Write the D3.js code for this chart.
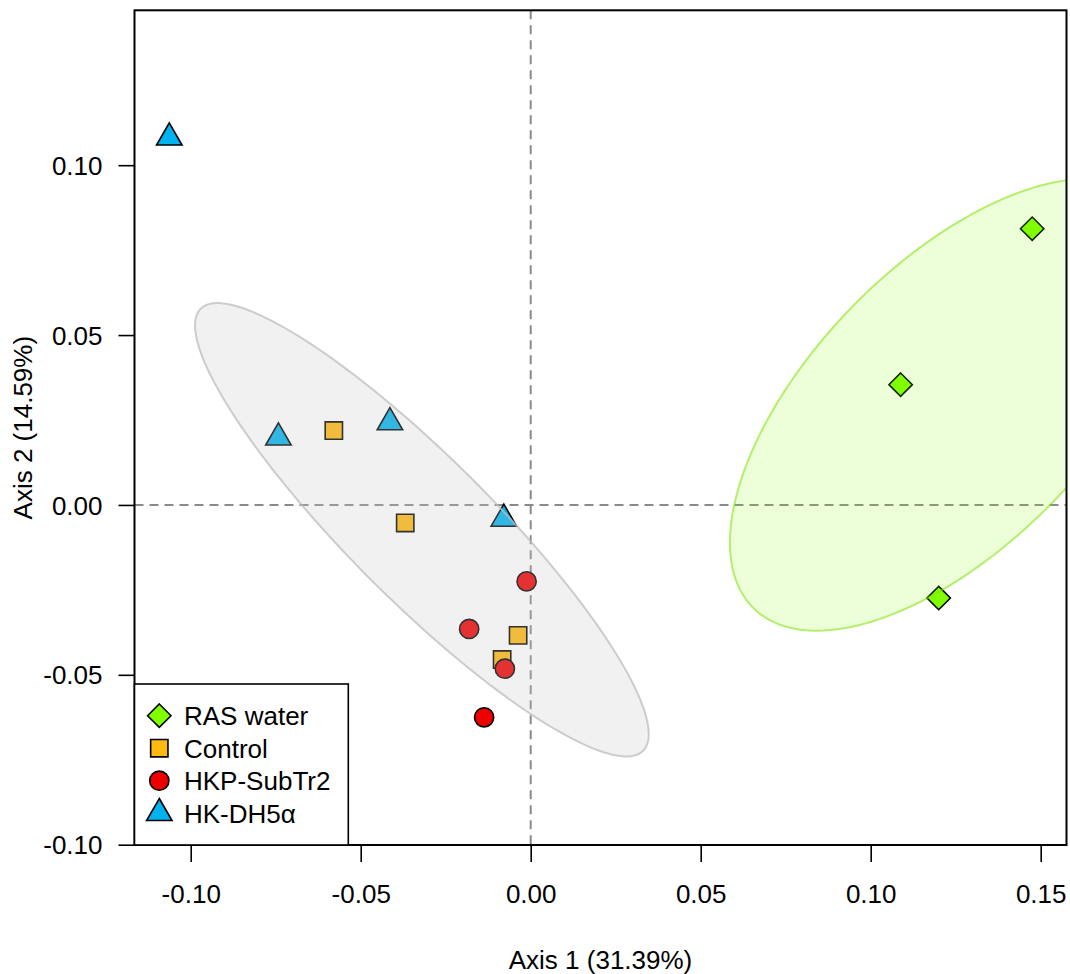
<!DOCTYPE html>
<html><head><meta charset="utf-8">
<script src="https://cdn.jsdelivr.net/npm/d3@7"></script>
<style>
html,body{margin:0;padding:0;background:#fff;}
text{font-family:"Liberation Sans",Arial,Helvetica,sans-serif;}
</style></head>
<body><svg id="c" width="1070" height="974"></svg>
<script>
// ---------------- data ----------------
const groups = ["RAS water", "Control", "HKP-SubTr2", "HK-DH5α"];
const groupColors = ["#7FFF00", "#FFB90F", "#EE0000", "#00B2EE"];
const groupShapes = ["diamond", "square", "circle", "triangle"];

const rasX = [0.1475, 0.1088, 0.1200];
const rasY = [0.0813, 0.0354, -0.0274];
const controlX = [-0.0579, -0.0369, -0.0037, -0.0084];
const controlY = [0.0219, -0.0053, -0.0384, -0.0455];
const hkpX = [-0.0012, -0.0181, -0.0076, -0.0137];
const hkpY = [-0.0225, -0.0365, -0.0482, -0.0625];
const dh5X = [-0.1063, -0.0742, -0.0414, -0.0079];
const dh5Y = [0.1081, 0.0198, 0.0243, -0.0041];

// ellipses: [centerX, centerY, semiMajor, semiMinor, angleDeg]
const ellipseGrey = [-0.0320, -0.0073, 0.0920, 0.0210, -45];
const ellipseGreen = [0.1240, 0.0295, 0.0837, 0.0412, 45.8];

const xTicks = [-0.10, -0.05, 0.00, 0.05, 0.10, 0.15];
const yTicks = [-0.10, -0.05, 0.00, 0.05, 0.10];
const xTitle = "Axis 1 (31.39%)";
const yTitle = "Axis 2 (14.59%)";

// ---------------- layout ----------------
const L = 134.5, R = 1066.5, T = 10.3, B = 845;
const x = d3.scaleLinear().domain([-0.11653, 0.15759]).range([L, R]);
const y = d3.scaleLinear().domain([-0.10009, 0.14559]).range([B, T]);

const svg = d3.select("#c");
svg.append("defs").append("clipPath").attr("id", "plotclip")
  .append("rect").attr("x", L).attr("y", T).attr("width", R - L).attr("height", B - T);

const fontSize = 26;

// dashed zero lines
const plot = svg.append("g").attr("clip-path", "url(#plotclip)");
plot.append("line").attr("x1", L).attr("x2", R).attr("y1", y(0)).attr("y2", y(0))
  .attr("stroke", "#8a8a8a").attr("stroke-width", 2).attr("stroke-dasharray", "9,6");
plot.append("line").attr("x1", x(0)).attr("x2", x(0)).attr("y1", T).attr("y2", B)
  .attr("stroke", "#8a8a8a").attr("stroke-width", 2).attr("stroke-dasharray", "9,6");

// symbol paths (pixel sizes)
function symPath(shape) {
  if (shape === "diamond") { const s = 11.7; return `M0,${-s}L${s},0L0,${s}L${-s},0Z`; }
  if (shape === "square") { const s = 8.65; return `M${-s},${-s}H${s}V${s}H${-s}Z`; }
  if (shape === "circle") { const r = 9.6; return `M${r},0A${r},${r} 0 1,1 ${-r},0A${r},${r} 0 1,1 ${r},0Z`; }
  const r = 14.7; return `M0,${-r}L${0.866 * r},${r / 2}L${-0.866 * r},${r / 2}Z`;
}

const seriesX = [rasX, controlX, hkpX, dh5X];
const seriesY = [rasY, controlY, hkpY, dh5Y];
const draw = [3, 1, 2, 0]; // draw order
draw.forEach(gi => {
  seriesX[gi].forEach((vx, i) => {
    plot.append("path").attr("d", symPath(groupShapes[gi]))
      .attr("transform", `translate(${x(vx)},${y(seriesY[gi][i])})`)
      .attr("fill", groupColors[gi]).attr("stroke", "#000").attr("stroke-width", 1.6)
      .attr("stroke-linejoin", "miter");
  });
});

// ellipses drawn on top with transparency
function ellipsePath(e) {
  const [cx, cy, a, b, ang] = e;
  const t = ang * Math.PI / 180;
  const pts = d3.range(0, 361, 2).map(d => {
    const p = d * Math.PI / 180;
    const ex = a * Math.cos(p), ey = b * Math.sin(p);
    return [x(cx + ex * Math.cos(t) - ey * Math.sin(t)), y(cy + ex * Math.sin(t) + ey * Math.cos(t))];
  });
  return d3.line().curve(d3.curveLinearClosed)(pts);
}
plot.append("path").attr("d", ellipsePath(ellipseGrey))
  .attr("fill", "rgb(200,200,200)").attr("fill-opacity", 0.25)
  .attr("stroke", "rgb(190,190,190)").attr("stroke-opacity", 0.75).attr("stroke-width", 2);
plot.append("path").attr("d", ellipsePath(ellipseGreen))
  .attr("fill", "#7FFF00").attr("fill-opacity", 0.15)
  .attr("stroke", "#7FE000").attr("stroke-opacity", 0.55).attr("stroke-width", 2);

// axes
const xAxis = svg.append("g").attr("transform", `translate(0,${B})`)
  .call(d3.axisBottom(x).tickValues(xTicks).tickSize(17).tickPadding(18).tickFormat(d3.format(".2f")));
const yAxis = svg.append("g").attr("transform", `translate(${L},0)`)
  .call(d3.axisLeft(y).tickValues(yTicks).tickSize(16).tickPadding(16).tickFormat(d3.format(".2f")));
[xAxis, yAxis].forEach(g => {
  g.select(".domain").remove();
  g.selectAll(".tick line").attr("stroke", "#000").attr("stroke-width", 1.6);
  g.selectAll(".tick text").attr("font-size", fontSize).attr("fill", "#000")
    .attr("font-family", "'Liberation Sans',Arial,sans-serif").text(d => d3.format(".2f")(d).replace("−", "-"));
});
xAxis.selectAll(".tick text").attr("dy", null).attr("y", 58);
yAxis.selectAll(".tick text").attr("dy", "0.35em");

// box
svg.append("rect").attr("x", L).attr("y", T).attr("width", R - L).attr("height", B - T)
  .attr("fill", "none").attr("stroke", "#000").attr("stroke-width", 2);

// axis titles
svg.append("text").attr("x", (L + R) / 2).attr("y", 969).attr("text-anchor", "middle")
  .attr("font-size", fontSize).text(xTitle);
svg.append("text").attr("transform", `translate(32,${(T + B) / 2}) rotate(-90)`)
  .attr("text-anchor", "middle").attr("font-size", fontSize).text(yTitle);

// legend
const lg = svg.append("g");
lg.append("rect").attr("x", L).attr("y", 684).attr("width", 348.3 - L).attr("height", B - 684)
  .attr("fill", "#fff").attr("stroke", "#000").attr("stroke-width", 1.6);
groups.forEach((g, i) => {
  const ry = 715.7 + i * 32.5;
  lg.append("path").attr("d", symPath(groupShapes[i]))
    .attr("transform", `translate(159.3,${ry})`)
    .attr("fill", groupColors[i]).attr("stroke", "#000").attr("stroke-width", 1.6);
  lg.append("text").attr("x", 184).attr("y", ry + 9.3).attr("font-size", fontSize).text(g);
});
</script></body></html>
